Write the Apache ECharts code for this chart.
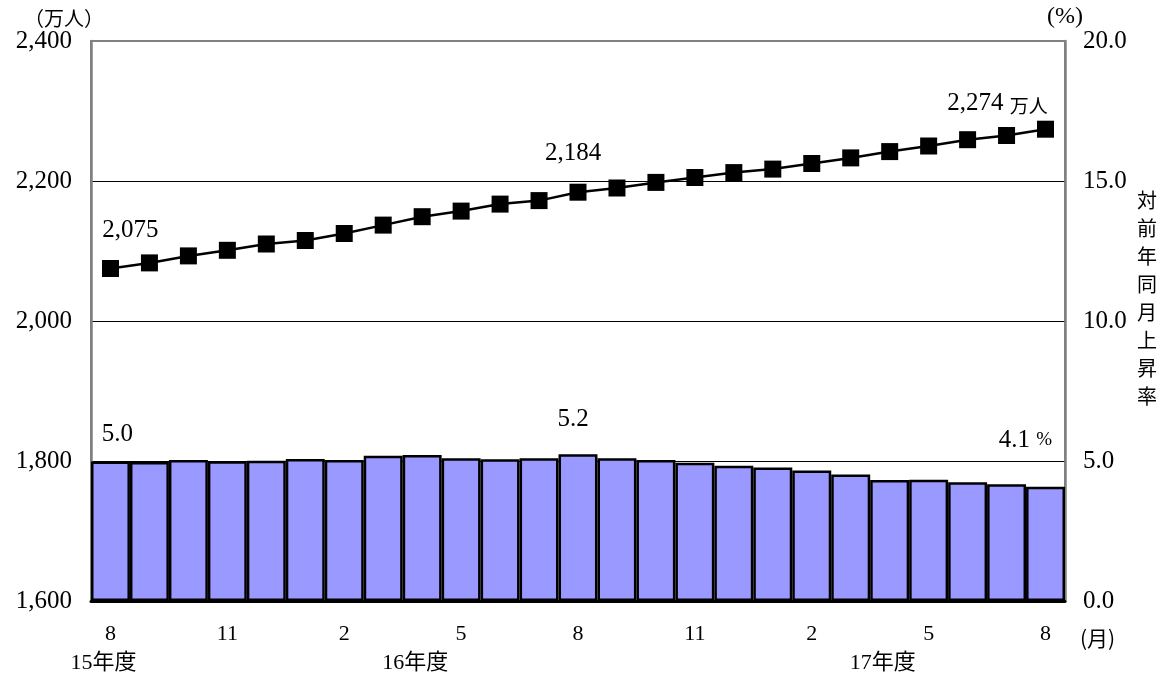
<!DOCTYPE html>
<html>
<head>
<meta charset="utf-8">
<script src="https://cdn.jsdelivr.net/npm/echarts@6/dist/echarts.min.js"></script>
<style>
  html, body { margin: 0; padding: 0; background: #fff; }
  #chart { width: 1169px; height: 679px; }
</style>
</head>
<body>
<div id="chart"></div>
<script>
// Month of each observation (Aug 2015 .. Aug 2017)
const months = [8, 9, 10, 11, 12, 1, 2, 3, 4, 5, 6, 7, 8, 9, 10, 11, 12, 1, 2, 3, 4, 5, 6, 7, 8];
// Fiscal-year tick labels (placed at the month where each label sits)
const fiscalYearLabels = ['15年度', '', '', '', '', '', '', '', '16年度', '', '', '', '', '', '', '', '', '', '', '', '17年度', '', '', '', ''];
// Line series: 万人 (left axis)
const population = [2075, 2083, 2093, 2101, 2110, 2115, 2125, 2137, 2149, 2157, 2167, 2172, 2184, 2190, 2198, 2205, 2212, 2217, 2225, 2233, 2242, 2250, 2259, 2265, 2274];
// Bar series: 対前年同月上昇率 % (right axis)
const growthRate = [4.98, 4.96, 5.04, 4.99, 5.01, 5.07, 5.04, 5.19, 5.21, 5.10, 5.06, 5.10, 5.24, 5.10, 5.04, 4.94, 4.83, 4.77, 4.66, 4.52, 4.32, 4.33, 4.24, 4.17, 4.08];
// Axis ticks
const leftAxisTicks = { min: 1600, max: 2400, interval: 200 };
const rightAxisTicks = { min: 0, max: 20, interval: 5 };

const serif = "'Liberation Serif', 'Noto Sans CJK JP', serif";
const cjk = "'Noto Sans CJK JP', sans-serif";
const gray = '#808080';
const categories = months.map((m, i) => String(i));

const fmtThousands = v => Math.round(v).toLocaleString('en-US');

const lineLabels = {
  0: { offset: [20, -12] },
  12: { offset: [-5, -13] },
  24: { offset: [-48, 0], suffix: true }
};
const barLabels = {
  0: { offset: [7, -10] },
  12: { offset: [-5, -17] },
  24: { offset: [-20, -29], suffix: true }
};

const lineData = population.map((v, i) => {
  const cfg = lineLabels[i];
  if (!cfg) return v;
  return {
    value: v,
    label: {
      show: true,
      position: 'top',
      offset: cfg.offset,
      formatter: cfg.suffix ? '{n|' + fmtThousands(v) + '} {u|万人}' : fmtThousands(v),
      fontFamily: serif, fontSize: 25, color: '#000',
      rich: {
        n: { fontFamily: serif, fontSize: 25, color: '#000' },
        u: { fontFamily: cjk, fontSize: 19, color: '#000', padding: [5, 0, 0, 0] }
      }
    }
  };
});

const barData = growthRate.map((v, i) => {
  const cfg = barLabels[i];
  if (!cfg) return v;
  return {
    value: v,
    label: {
      show: true,
      position: 'top',
      offset: cfg.offset,
      formatter: cfg.suffix ? '{n|' + v.toFixed(1) + '} {u|%}' : v.toFixed(1),
      fontFamily: serif, fontSize: 25, color: '#000',
      rich: {
        n: { fontFamily: serif, fontSize: 25, color: '#000' },
        u: { fontFamily: serif, fontSize: 19, color: '#000' }
      }
    }
  };
});

const chart = echarts.init(document.getElementById('chart'), null, { renderer: 'canvas' });
chart.setOption({
  animation: false,
  backgroundColor: '#fff',
  grid: {
    left: 91, right: 104, top: 41, bottom: 78,
    show: true, borderColor: gray, borderWidth: 2, backgroundColor: 'transparent'
  },
  xAxis: [
    {
      type: 'category',
      data: categories,
      position: 'bottom',
      axisLine: { show: true, lineStyle: { color: '#000', width: 3 } },
      axisTick: { show: false },
      axisLabel: {
        interval: 2,
        margin: 22,
        fontFamily: serif, fontSize: 22, color: '#000',
        formatter: (val, idx) => String(months[idx])
      },
      name: '(月)',
      nameLocation: 'end',
      nameGap: 15,
      nameTextStyle: { fontFamily: cjk, fontSize: 21, color: '#000', verticalAlign: 'top', padding: [27, 0, 0, 0] }
    },
    {
      type: 'category',
      data: categories,
      position: 'bottom',
      axisLine: { show: false },
      axisTick: { show: false },
      axisLabel: {
        interval: (idx) => fiscalYearLabels[idx] !== '',
        margin: 51,
        fontFamily: serif, fontSize: 22, color: '#000',
        padding: [0, 14, 0, 0],
        formatter: (val, idx) => fiscalYearLabels[idx]
      }
    }
  ],
  yAxis: [
    {
      type: 'value',
      min: leftAxisTicks.min, max: leftAxisTicks.max, interval: leftAxisTicks.interval,
      position: 'left',
      axisLine: { show: true, lineStyle: { color: gray, width: 2.5 } },
      axisTick: { show: false },
      axisLabel: { margin: 19, fontFamily: serif, fontSize: 25, color: '#000', formatter: v => fmtThousands(v) },
      splitLine: { show: true, showMinLine: false, showMaxLine: false, lineStyle: { color: '#000', width: 1 } },
      name: '（万人）',
      nameLocation: 'end',
      nameGap: 10,
      nameTextStyle: { fontFamily: cjk, fontSize: 20, color: '#000', align: 'center', padding: [0, 54, 0, 0] }
    },
    {
      type: 'value',
      min: rightAxisTicks.min, max: rightAxisTicks.max, interval: rightAxisTicks.interval,
      position: 'right',
      axisLine: { show: true, lineStyle: { color: gray, width: 2.5 } },
      axisTick: { show: false },
      splitLine: { show: false },
      axisLabel: { margin: 18, fontFamily: serif, fontSize: 25, color: '#000', formatter: v => v.toFixed(1) },
      name: '(%)',
      nameLocation: 'end',
      nameGap: 7,
      nameTextStyle: { fontFamily: serif, fontSize: 24, color: '#000' }
    },
    {
      type: 'value',
      min: rightAxisTicks.min, max: rightAxisTicks.max,
      position: 'right',
      show: true,
      axisLine: { show: false }, axisTick: { show: false }, axisLabel: { show: false }, splitLine: { show: false },
      name: '対前年同月上昇率'.split('').join('\n') + '\n{s| }',
      nameLocation: 'middle',
      nameRotate: 0,
      nameGap: 72,
      nameTextStyle: {
        fontFamily: cjk, fontSize: 20, color: '#000', lineHeight: 28, align: 'left',
        rich: { s: { fontSize: 10, lineHeight: 46 } }
      }
    }
  ],
  series: [
    {
      type: 'bar',
      xAxisIndex: 0,
      yAxisIndex: 1,
      data: barData,
      barCategoryGap: '0%',
      itemStyle: { color: '#9999FF', borderColor: '#000', borderWidth: 2.5 },
      z: 2
    },
    {
      type: 'line',
      xAxisIndex: 0,
      yAxisIndex: 0,
      data: lineData,
      symbol: 'rect',
      symbolSize: 17,
      lineStyle: { color: '#000', width: 2.5 },
      itemStyle: { color: '#000' },
      z: 5
    }
  ]
});
</script>
</body>
</html>
